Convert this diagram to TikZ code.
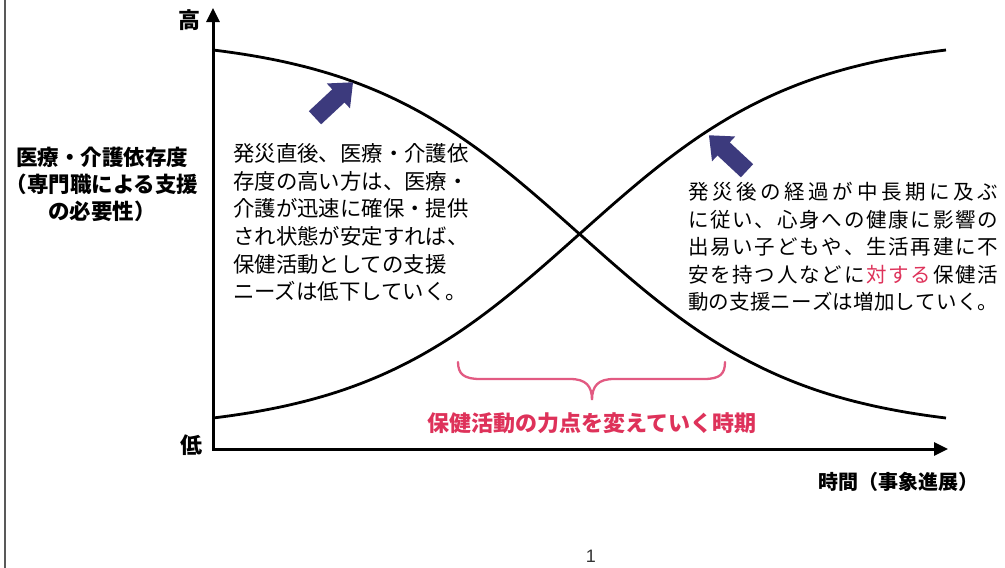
\documentclass[tikz,border=0pt]{standalone}
\usepackage{fontspec}
\setmainfont{Noto Sans CJK JP}
\newfontfamily\pagefont{Liberation Sans}
\usetikzlibrary{arrows.meta}
\definecolor{navy}{RGB}{60,58,125}
\definecolor{tred}{RGB}{222,50,90}
\definecolor{bpink}{RGB}{226,90,130}
\ExplSyntaxOn
\NewDocumentCommand\spreadline{m m}
 {
  \hbox_to_wd:nn {#1}
   {
    \bool_set_true:N \l_tmpa_bool
    \tl_map_inline:nn {#2}
     {
      \bool_if:NF \l_tmpa_bool { \hfil }
      \bool_set_false:N \l_tmpa_bool
      ##1
     }
   }
 }
\ExplSyntaxOff
\tikzset{
  axisline/.style={line width=3pt, line join=miter, {Triangle[length=14pt,width=13pt]}-{Triangle[length=14pt,width=13pt]}},
  curveline/.style={line width=2.8pt},
  boldlab/.style={font=\bfseries\fontsize{22}{27}\selectfont, inner sep=0pt},
  bodytxt/.style={inner sep=0pt, align=left},
  bracestyle/.style={draw=bpink, line width=2.3pt, line cap=round},
  blockarrow/.pic={\fill[navy] (-26,-9) -- (6,-9) -- (6,-17) -- (26,0) -- (6,17) -- (6,9) -- (-26,9) -- cycle;},
}
\begin{document}
\begin{tikzpicture}[x=1pt,y=-1pt]
\useasboundingbox (0,0) rectangle (1005,568);
\fill[white] (0,0) rectangle (1005,568);
% slide frame edge
\draw[black!65, line width=1.5pt] (5,0) -- (5,568);
% axes
\coordinate (ytip) at (213,8);
\coordinate (orig) at (213,449);
\coordinate (xtip) at (948,449);
\draw[axisline] (ytip) -- (orig) -- (xtip);
% curves
\draw[curveline] plot[domain=213:946, samples=120, smooth] (\x, {234 + 184*tanh(0.0045*(\x-579.5))/tanh(0.0045*366.5)});
\draw[curveline] plot[domain=213:946, samples=120, smooth] (\x, {234 - 184*tanh(0.0045*(\x-579.5))/tanh(0.0045*366.5)});
% axis labels
\node[boldlab] (hi) at (189,20) {高};
\node[boldlab] (lo) at (191,445) {低};
\node[boldlab, align=center, font=\bfseries\fontsize{21.5}{27}\selectfont] (ylab) at (102,184) {医療・介護依存度\\（専門職による支援\\の必要性）};
\node[boldlab, anchor=east, font=\bfseries\fontsize{20}{24}\selectfont] (xlab) at (979,482) {時間（事象進展）};
% block arrows
\pic[rotate=43] at (334,100) {blockarrow};
\pic[rotate=137] at (728,153) {blockarrow};
% text blocks
\node[bodytxt, anchor=west, font=\fontsize{21.4}{27.7}\selectfont] (ltext) at (233,222.5)
 {発災直後、医療・介護依\\存度の高い方は、医療・\\介護が迅速に確保・提供\\され状態が安定すれば、\\保健活動としての支援\\ニーズは低下していく。};
\node[bodytxt, anchor=west, font=\fontsize{20.5}{27.5}\selectfont] (rtext) at (688,246.7)
 {\spreadline{310pt}{発災後の経過が中長期に及ぶ}\\
  \spreadline{310pt}{に従い、心身への健康に影響の}\\
  \spreadline{310pt}{出易い子どもや、生活再建に不}\\
  \spreadline{310pt}{安を持つ人などに{{\color{tred}対}}{{\color{tred}す}}{{\color{tred}る}}保健活}\\
  \spreadline{310pt}{動の支援ニーズは増加していく。}};
% brace
\draw[bracestyle] (458,362) .. controls (458,374) and (464,379) .. (480,379) -- (570,379) .. controls (586,379) and (592,386) .. (592,400)
  .. controls (592,386) and (598,379) .. (614,379) -- (704,379) .. controls (720,379) and (725,374) .. (725,362);
\node[boldlab, text=tred] (period) at (592,423) {保健活動の力点を変えていく時期};
% page number
\node[inner sep=0pt, font=\pagefont\fontsize{18}{20}\selectfont, text=black!80] (pgno) at (591,556) {1};
\end{tikzpicture}
\end{document}
